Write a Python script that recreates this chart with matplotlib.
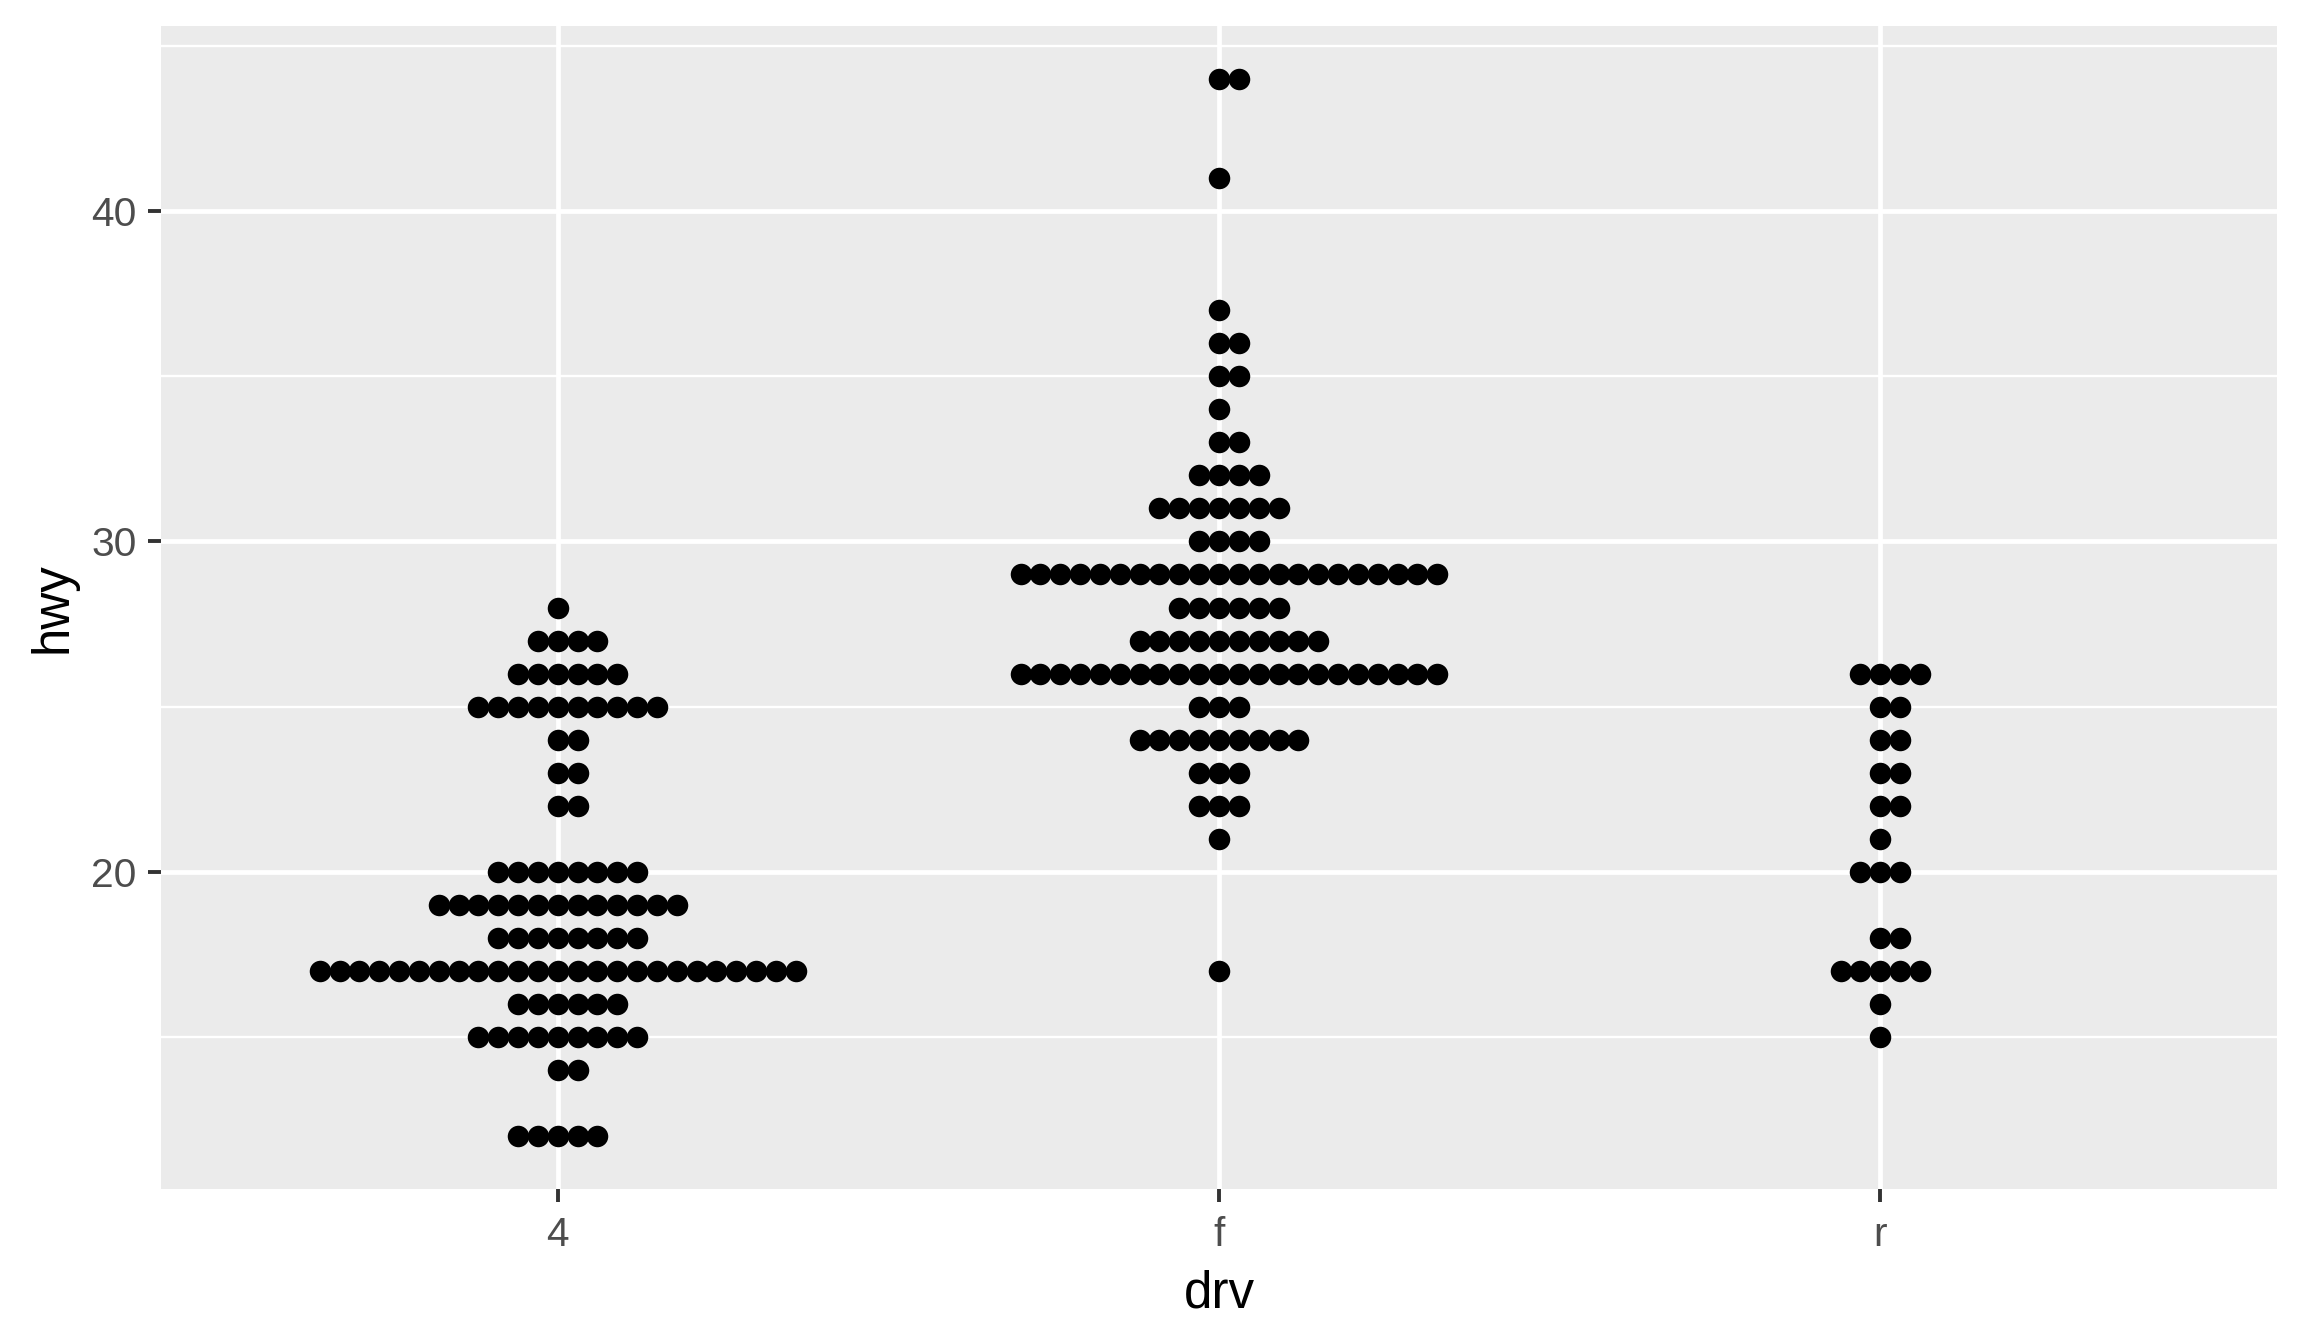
import numpy as np
import matplotlib.pyplot as plt
from matplotlib.ticker import MultipleLocator

plt.rcParams['font.family'] = ['Liberation Sans', 'DejaVu Sans']

# hwy dot plot of the mpg data, one stack per drive type
drv_levels = ['4', 'f', 'r']

hwy_4 = [12, 14, 15, 16, 17, 18, 19, 20, 22, 23, 24, 25, 26, 27, 28]
count_4 = [5, 2, 9, 6, 25, 8, 13, 8, 2, 2, 2, 10, 6, 4, 1]

hwy_f = [17, 21, 22, 23, 24, 25, 26, 27, 28, 29, 30, 31, 32, 33, 34, 35, 36, 37, 41, 44]
count_f = [1, 1, 3, 3, 9, 3, 22, 10, 6, 22, 4, 7, 4, 2, 1, 2, 2, 1, 1, 2]

hwy_r = [15, 16, 17, 18, 20, 21, 22, 23, 24, 25, 26]
count_r = [1, 1, 5, 2, 3, 1, 2, 2, 2, 2, 4]

groups = [(hwy_4, count_4), (hwy_f, count_f), (hwy_r, count_r)]

W, H, DPI = 2304, 1344, 200
fig = plt.figure(figsize=(W / DPI, H / DPI), dpi=DPI)
ax = fig.add_axes([161 / W, 1 - 1189 / H, (2277 - 161) / W, (1189 - 26) / H])

ax.set_facecolor('#EBEBEB')
for s in ax.spines.values():
    s.set_visible(False)

ax.set_xlim(0.4, 3.6)
ax.set_ylim(10.4, 45.6)

step = 0.030  # horizontal spacing between stacked dots, in x units
for i, (vals, counts) in enumerate(groups):
    xs, ys = [], []
    for v, n in zip(vals, counts):
        k = np.arange(n) - (n - 1) // 2
        xs.extend(i + 1 + k * step)
        ys.extend([v] * n)
    ax.scatter(xs, ys, s=60, color='black', linewidths=0, zorder=3)

ax.set_xticks([1, 2, 3])
ax.set_xticklabels(drv_levels)
ax.yaxis.set_minor_locator(MultipleLocator(5))
ax.set_yticks([20, 30, 40])

ax.grid(True, which='major', color='white', linewidth=1.7, zorder=0)
ax.grid(True, which='minor', axis='y', color='white', linewidth=0.85, zorder=0)
ax.set_axisbelow(True)

ax.tick_params(axis='both', which='major', length=4.7, width=1.4, color='#333333',
               labelcolor='#4D4D4D', labelsize=14.7, pad=4)
ax.tick_params(axis='x', which='major', pad=5)
ax.tick_params(axis='y', which='minor', length=0)

ax.set_xlabel('drv', fontsize=18.4, color='black', labelpad=5.5)
ax.set_ylabel('hwy', fontsize=18.4, color='black', labelpad=5)

fig.savefig('out.png', dpi=DPI)
